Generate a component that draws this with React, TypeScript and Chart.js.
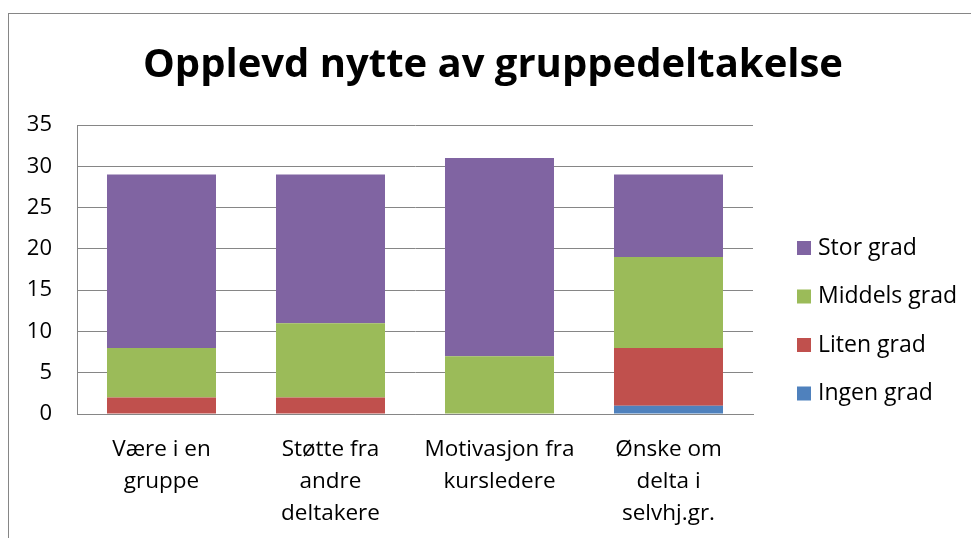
import React, { useEffect, useRef } from "react";
import { Chart, registerables } from "chart.js";

Chart.register(...registerables);

const categories: string[][] = [
  ["Være i en", "gruppe"],
  ["Støtte fra", "andre", "deltakere"],
  ["Motivasjon fra", "kursledere"],
  ["Ønske om", "delta i", "selvhj.gr."],
];
const ingenGrad = [0, 0, 0, 1];
const litenGrad = [2, 2, 0, 7];
const middelsGrad = [6, 9, 7, 11];
const storGrad = [21, 18, 24, 10];
const seriesNames = ["Ingen grad", "Liten grad", "Middels grad", "Stor grad"];
const seriesColors = ["#4F81BD", "#C0504D", "#9BBB59", "#8064A2"];
const yTicks = [0, 5, 10, 15, 20, 25, 30, 35];
const title = "Opplevd nytte av gruppedeltakelse";

const FONT = "'Open Sans', Calibri, sans-serif";

export default function App() {
  const ref = useRef<HTMLCanvasElement | null>(null);
  useEffect(() => {
    document.body.style.margin = "0";
    const canvas = ref.current!;
    const frame = {
      id: "frame",
      beforeDraw(chart: any) {
        const ctx = chart.ctx;
        ctx.save();
        ctx.fillStyle = "#fff";
        ctx.fillRect(0, 0, chart.width, chart.height);
        ctx.strokeStyle = "#868686";
        ctx.lineWidth = 1;
        ctx.strokeRect(8.5, 13.5, 1200, 1200);
        ctx.fillStyle = "#000";
        ctx.font = `bold 40px ${FONT}`;
        ctx.textAlign = "center";
        ctx.textBaseline = "middle";
        ctx.fillText(title, 493, 66);
        ctx.restore();
      },
    };
    const legend = {
      id: "customLegend",
      afterDraw(chart: any) {
        const ctx = chart.ctx;
        ctx.save();
        ctx.font = `23px ${FONT}`;
        ctx.textBaseline = "middle";
        ctx.textAlign = "left";
        const order = [3, 2, 1, 0];
        const x0 = chart.chartArea.right + 44;
        const yStart = 248;
        const step = 48.5;
        order.forEach((di, i) => {
          const y = yStart + i * step;
          ctx.fillStyle = seriesColors[di];
          ctx.fillRect(x0, y - 7, 14, 14);
          ctx.fillStyle = "#000";
          ctx.fillText(seriesNames[di], x0 + 21, y);
        });
        ctx.restore();
      },
    };
    const dataArrays = [ingenGrad, litenGrad, middelsGrad, storGrad];
    const chart = new Chart(canvas, {
      type: "bar",
      data: {
        labels: categories,
        datasets: dataArrays.map((d, i) => ({
          label: seriesNames[i],
          data: d,
          backgroundColor: seriesColors[i],
          borderWidth: 0,
          barPercentage: 0.645,
          categoryPercentage: 1,
        })),
      },
      options: {
        animation: false,
        responsive: false,
        layout: { padding: { left: 0, right: 218, top: 125, bottom: 0 } },
        plugins: {
          legend: { display: false },
          tooltip: { enabled: false },
          title: { display: false },
        },
        scales: {
          x: {
            stacked: true,
            grid: { display: false, drawTicks: false },
            border: { display: true, color: "#868686", width: 1 },
            ticks: {
              color: "#000",
              padding: 19,
              maxRotation: 0,
              autoSkip: false,
              font: { family: FONT, size: 22.5, lineHeight: 1.44 },
            },
            afterFit(scale: any) {
              scale.height = 124;
            },
          },
          y: {
            stacked: true,
            min: 0,
            max: 35,
            afterBuildTicks(scale: any) {
              scale.ticks = yTicks.map((v) => ({ value: v }));
            },
            grid: { color: "#868686", lineWidth: 1, drawTicks: false },
            border: { display: true, color: "#868686", width: 1 },
            ticks: {
              color: "#000",
              padding: 25,
              font: { family: FONT, size: 22 },
            },
            afterFit(scale: any) {
              scale.width = 77;
            },
          },
        },
      },
      plugins: [frame, legend],
    });
    return () => chart.destroy();
  }, []);
  return (
    <div style={{ width: 971, height: 538 }}>
      <canvas ref={ref} width={971} height={538} style={{ display: "block" }} />
    </div>
  );
}
